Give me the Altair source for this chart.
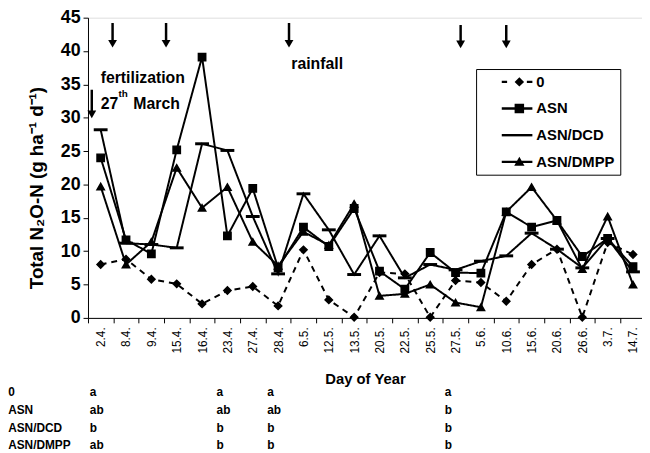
import altair as alt
import pandas as pd

# ---------------- data ----------------
dates = ["2.4.", "8.4.", "9.4.", "15.4.", "16.4.", "23.4.", "27.4.", "28.4.",
         "6.5.", "12.5.", "13.5.", "20.5.", "22.5.", "25.5.", "27.5.", "5.6.",
         "10.6.", "15.6.", "20.6.", "26.6.", "3.7.", "14.7."]
series_names = ["0", "ASN", "ASN/DCD", "ASN/DMPP"]
v_0 = [8.0, 8.8, 5.8, 5.1, 2.1, 4.1, 4.7, 1.8, 10.2, 2.7, 0.1, 6.8, 6.6, 0.1,
       5.6, 5.3, 2.5, 8.0, 10.3, 0.1, 11.3, 9.5]
v_asn = [24.0, 11.7, 9.6, 25.2, 39.1, 12.3, 19.4, 7.5, 13.6, 10.7, 16.4, 7.0,
         4.3, 9.8, 6.8, 6.7, 15.9, 13.6, 14.6, 9.2, 11.9, 7.7]
v_dcd = [28.2, 11.2, 11.0, 10.5, 26.1, 25.1, 15.2, 6.6, 18.6, 13.2, 6.5, 12.3,
         6.0, 8.0, 7.2, 8.5, 9.3, 12.7, 10.3, 7.5, 11.9, 6.9]
v_dmpp = [19.7, 8.0, 11.4, 22.5, 16.5, 19.6, 11.4, 7.8, 12.9, 10.9, 17.1, 3.3,
          3.6, 5.0, 2.3, 1.6, 15.9, 19.6, 14.6, 7.3, 15.2, 5.0]

# arrows: position (day index), top and tip (N2O units)
arrow_x = [-0.35, 0.47, 2.58, 7.43, 14.2, 16.0]
arrow_top = [34.2, 44.2, 44.2, 44.2, 43.9, 43.9]
arrow_tip = [29.9, 40.5, 40.5, 40.5, 40.4, 40.4]

# significance table
sig_dates = ["2.4.", "23.4.", "28.4.", "27.5."]
sig_0 = ["a", "a", "a", "a"]
sig_asn = ["ab", "ab", "ab", "b"]
sig_dcd = ["b", "b", "b", "b"]
sig_dmpp = ["ab", "b", "b", "b"]

# ---------------- layout constants ----------------
FONT = "Liberation Sans, Arial, sans-serif"
X_DOMAIN = [-0.5, 21.355]
ROW_Y = [-11.1, -13.8, -16.5, -19.0]
ROW_LABEL_X = -3.65

rows = []
for s, vals in zip(series_names, [v_0, v_asn, v_dcd, v_dmpp]):
    for i, (d, v) in enumerate(zip(dates, vals)):
        rows.append({"series": s, "idx": i, "date": d, "value": v})
df = pd.DataFrame(rows)

x_scale = alt.Scale(domain=X_DOMAIN, nice=False, zero=False)
y_scale = alt.Scale(domain=[0, 45], nice=False, zero=False)

label_expr = "[" + ",".join(f"'{d}'" for d in dates) + "][datum.value]"
band_px = 561 / (X_DOMAIN[1] - X_DOMAIN[0])

x_axis = alt.Axis(values=list(range(len(dates))), labelExpr=label_expr, labelAngle=-90,
                  labelFont=FONT, labelFontSize=12, labelColor="black", labelPadding=4,
                  labelOverlap=False, labelFlush=False,
                  tickOffset=-band_px / 2, labelOffset=band_px / 2, tickSize=5,
                  tickColor="black", domainColor="black", grid=False,
                  title="Day of Year", titleFont=FONT, titleFontSize=15,
                  titleFontWeight="bold", titleColor="black", titlePadding=19)
y_axis = alt.Axis(values=list(range(0, 46, 5)), labelFont=FONT, labelFontSize=18,
                  labelFontWeight="bold", labelColor="black", tickSize=5,
                  labelOverlap=False, labelFlush=False,
                  tickColor="black", domainColor="black", grid=False, labelPadding=3,
                  title="Total N\u2082O-N  (g ha\u207b\u00b9 d\u207b\u00b9)",
                  titleFont=FONT, titleFontSize=19, titleFontWeight="bold",
                  titleColor="black", titleX=-52, titleY=172, titleAlign="center",
                  titleBaseline="middle", titleAngle=270)


def X(field):
    return alt.X(field, scale=x_scale, axis=x_axis)


def Y(field):
    return alt.Y(field, scale=y_scale, axis=y_axis)


base = alt.Chart(df)

lines = base.mark_line(color="black", strokeWidth=2).encode(
    x=X("idx:Q"), y=Y("value:Q"),
    strokeDash=alt.StrokeDash("series:N", scale=alt.Scale(domain=series_names,
                              range=[[6, 5], [1, 0], [1, 0], [1, 0]]), legend=None),
    detail="series:N",
)

marker_series = ["0", "ASN", "ASN/DMPP"]
points = base.transform_filter(alt.FieldOneOfPredicate(field="series", oneOf=marker_series)
                               ).mark_point(filled=True, fill="black", stroke="black",
                                            strokeWidth=1.5, opacity=1, size=55).encode(
    x=X("idx:Q"), y=Y("value:Q"),
    shape=alt.Shape("series:N", scale=alt.Scale(domain=marker_series,
                    range=["diamond", "square", "triangle-up"]), legend=None),
)
dcd_points = base.transform_filter(alt.datum.series == "ASN/DCD").mark_point(
    shape="stroke", filled=False, stroke="black", strokeWidth=3, size=196, opacity=1).encode(
    x=X("idx:Q"), y=Y("value:Q"),
)

# legend symbols: line + marker, all as filled outlines (units of 8 px)
T = 0.15
legend_paths = [
    f"M1.625,-{T}H2.3V{T}H1.625Z M4.8,-{T}H5.5V{T}H4.8Z M3.85,-0.6L4.45,0L3.85,0.6L3.25,0Z",
    f"M1.625,-{T}H5.5V{T}H1.625Z M3.25,-0.6H4.45V0.6H3.25Z",
    f"M1.625,-{T}H5.5V{T}H1.625Z",
    f"M1.625,-{T}H5.5V{T}H1.625Z M3.85,-0.65L4.5,0.5H3.2Z",
]
legend_layer = base.transform_filter("false").mark_point(
    filled=True, color="black", opacity=1).encode(
    x=X("idx:Q"), y=Y("value:Q"),
    shape=alt.Shape("series:N", scale=alt.Scale(domain=series_names, range=legend_paths),
                    legend=alt.Legend(title=None, orient="none", legendX=393, legendY=52,
                                      direction="vertical", symbolSize=256,
                                      symbolStrokeWidth=0, symbolFillColor="black",
                                      symbolOpacity=1,
                                      labelFont=FONT, labelFontSize=15,
                                      labelFontWeight="bold", labelColor="black",
                                      labelOffset=40, rowPadding=11, padding=5,
                                      strokeColor="black", fillColor="white",
                                      labelExpr="datum.label + '       '")),
)

arrows_df = pd.DataFrame({"x": arrow_x, "top": arrow_top, "tip": arrow_tip})
arrows_df["shaft_end"] = arrows_df["tip"] + 0.9
arrows_df["head"] = arrows_df["tip"] + 0.6
arrow_rules = alt.Chart(arrows_df).mark_rule(color="black", strokeWidth=2.5).encode(
    x=X("x:Q"), y=Y("top:Q"), y2="shaft_end:Q")
arrow_heads = alt.Chart(arrows_df).mark_point(shape="triangle-down", filled=True,
                                              color="black", size=80, opacity=1).encode(
    x=X("x:Q"), y=Y("head:Q"))

ann_df = pd.DataFrame({"text": ["fertilization", "27", "March", "rainfall"],
                       "x": [0.0, 0.0, 1.29, 7.52], "y": [35.9, 32.1, 32.1, 38.0]})
ann = alt.Chart(ann_df).mark_text(font=FONT, fontSize=16, fontWeight="bold",
                                  align="left", baseline="middle", color="black").encode(
    x=X("x:Q"), y=Y("y:Q"), text="text:N")
sup_df = pd.DataFrame({"text": ["th"], "x": [0.7], "y": [33.5]})
sup = alt.Chart(sup_df).mark_text(font=FONT, fontSize=10, fontWeight="bold",
                                  align="left", baseline="middle", color="black").encode(
    x=X("x:Q"), y=Y("y:Q"), text="text:N")

row_df = pd.DataFrame({"text": series_names, "x": [ROW_LABEL_X] * 4, "y": ROW_Y})
row_labels = alt.Chart(row_df).mark_text(font=FONT, fontSize=12, fontWeight="bold",
                                         align="left", baseline="middle", color="black").encode(
    x=X("x:Q"), y=Y("y:Q"), text="text:N")

sig_rows = []
for r, letters in enumerate([sig_0, sig_asn, sig_dcd, sig_dmpp]):
    for d, l in zip(sig_dates, letters):
        sig_rows.append({"text": l, "x": dates.index(d), "y": ROW_Y[r]})
sig_df = pd.DataFrame(sig_rows)
sig = alt.Chart(sig_df).mark_text(font=FONT, fontSize=12, fontWeight="bold", dx=-11,
                                  align="left", baseline="middle", color="black").encode(
    x=X("x:Q"), y=Y("y:Q"), text="text:N")

chart = alt.layer(lines, points, dcd_points, legend_layer, arrow_rules, arrow_heads, ann,
                  sup, row_labels, sig).resolve_scale(shape="independent").properties(
    width=561, height=304,
    padding={"left": 81, "top": 7, "right": 0, "bottom": 134},
    autosize=alt.AutoSizeParams(type="none"),
).configure_view(stroke="black", strokeWidth=1).configure(background="white")

chart.save("out.html", embed_options={"renderer": "svg", "actions": False})
